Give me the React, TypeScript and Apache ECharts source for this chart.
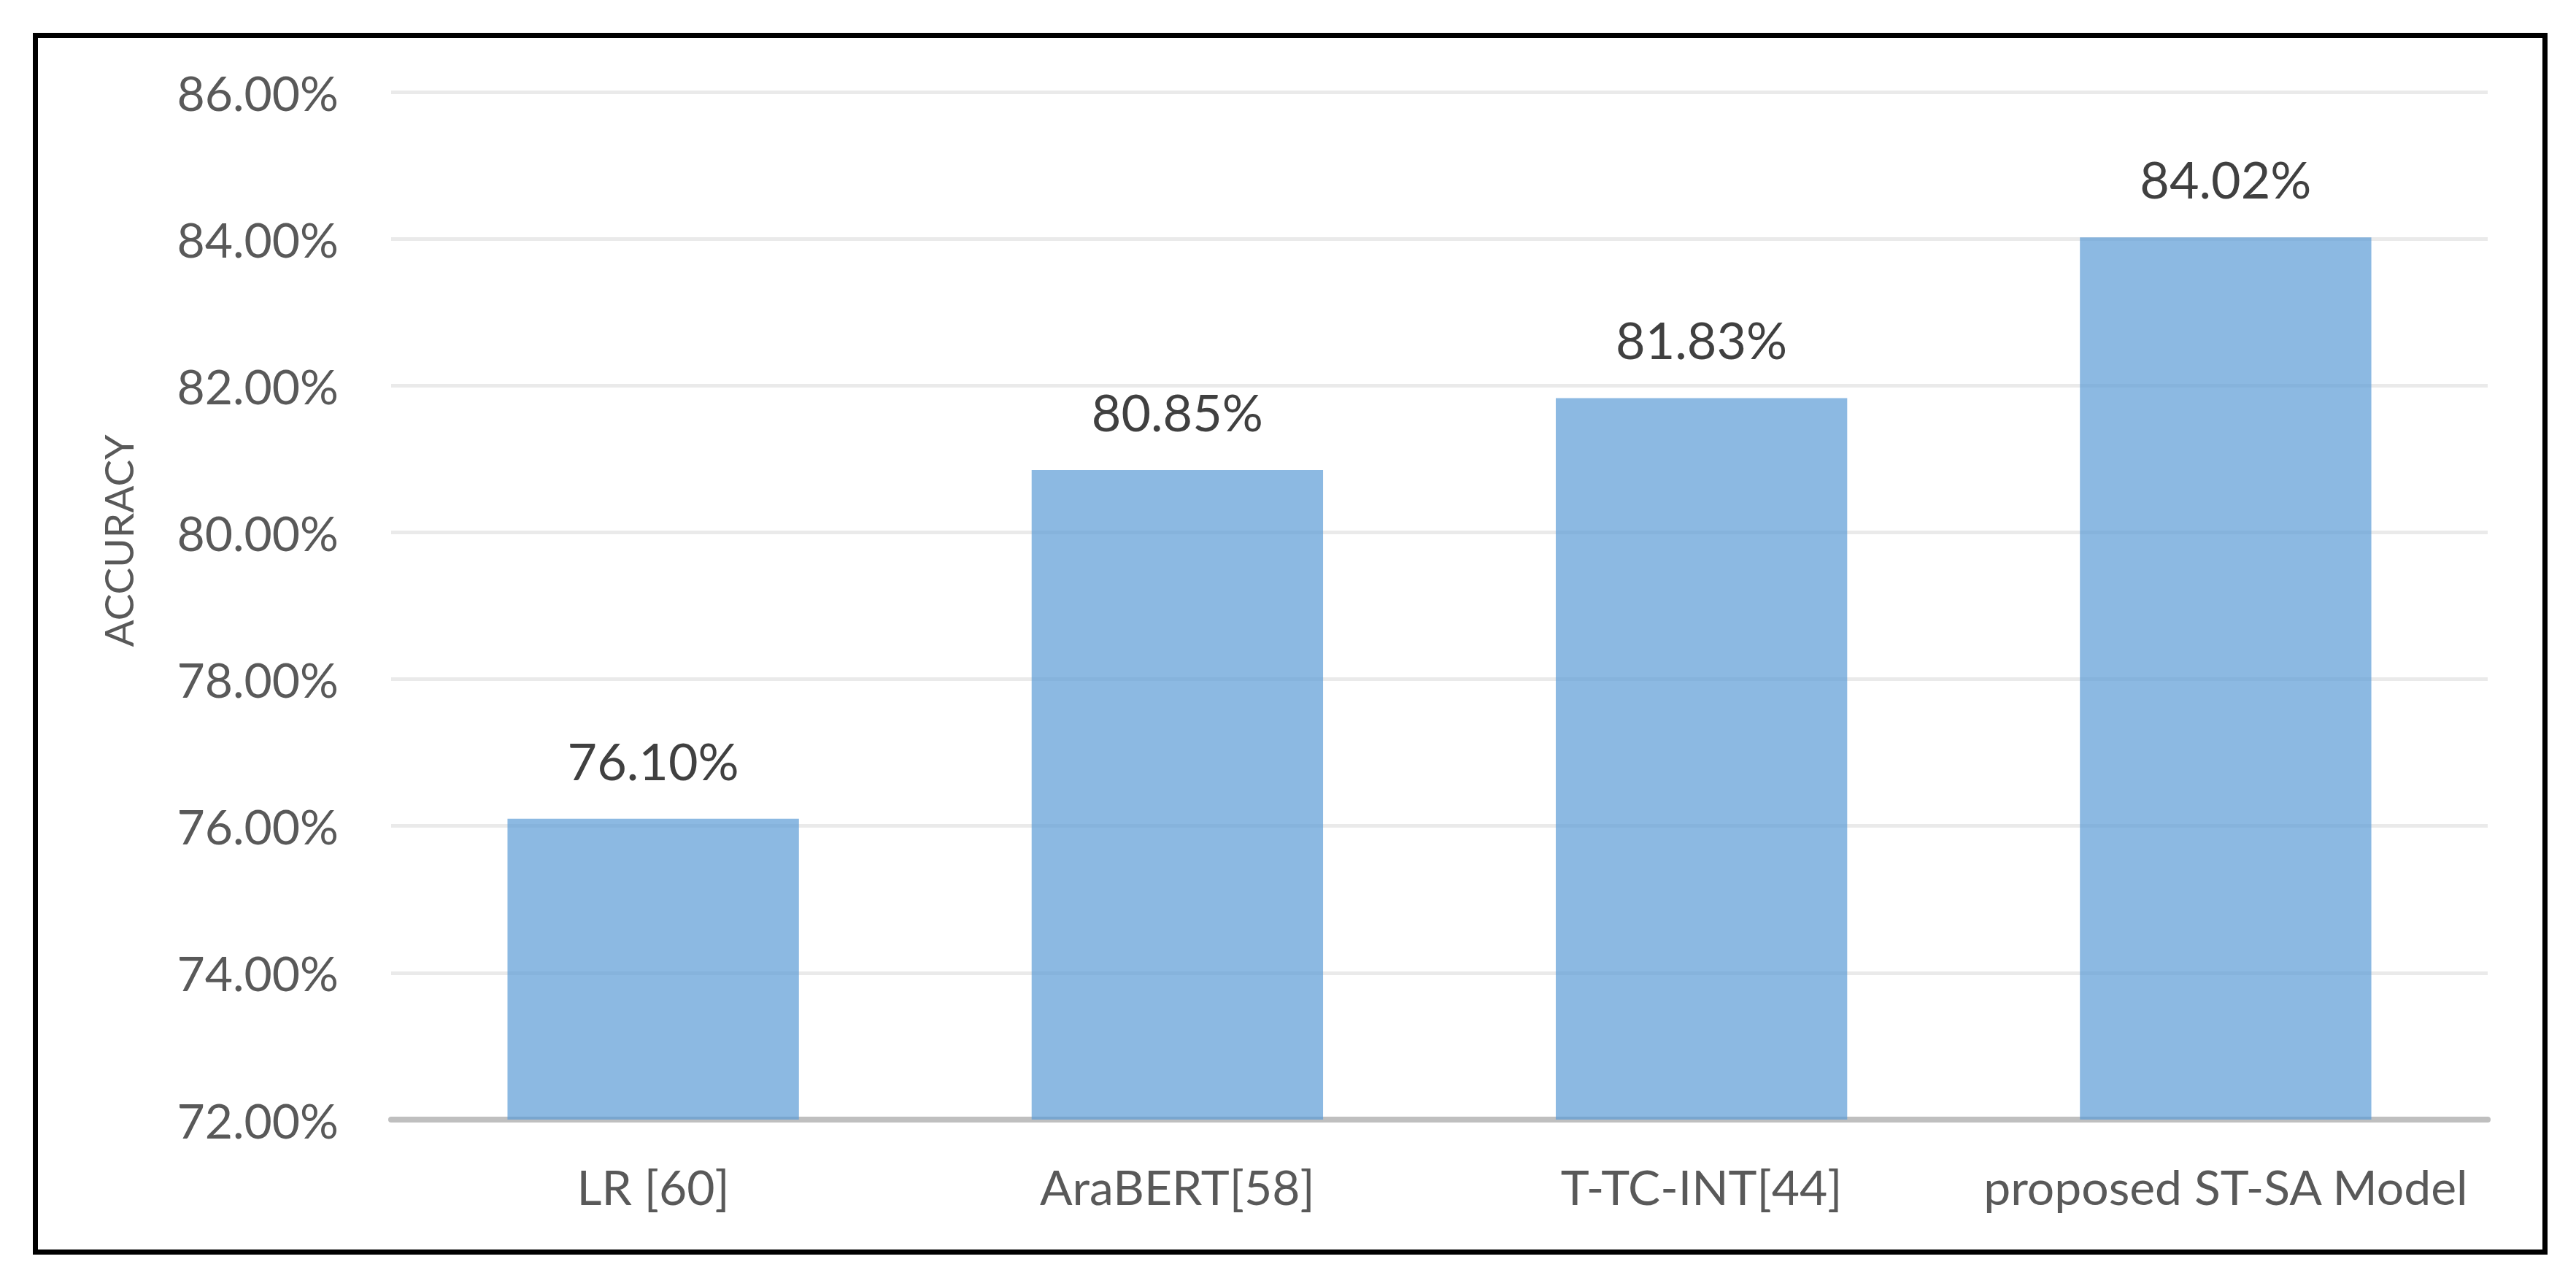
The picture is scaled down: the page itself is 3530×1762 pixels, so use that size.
import React, { useEffect, useRef } from "react";
import * as echarts from "echarts";

const categories = ["LR [60]", "AraBERT[58]", "T-TC-INT[44]", "proposed ST-SA Model"];
const accuracy = [76.1, 80.85, 81.83, 84.02];
const yMin = 72;
const yMax = 86;
const yStep = 2;
const yTitle = "ACCURACY";

const FONT = "Lato";

export default function App() {
  const ref = useRef<HTMLDivElement>(null);
  useEffect(() => {
    document.body.style.margin = "0";
    document.body.style.background = "#ffffff";
    const chart = echarts.init(ref.current!, null, { renderer: "svg" });
    chart.setOption({
      animation: false,
      backgroundColor: "#ffffff",
      grid: { left: 536, right: 121, top: 126, bottom: 228, containLabel: false },
      xAxis: {
        type: "category",
        data: categories,
        axisTick: { show: false },
        axisLine: { show: true, lineStyle: { color: "#BFBFBF", width: 8 } },
        axisLabel: {
          color: "#595959",
          fontFamily: FONT,
          fontSize: 66,
          margin: 58,
          interval: 0,
        },
      },
      yAxis: {
        type: "value",
        min: yMin,
        max: yMax,
        interval: yStep,
        axisLine: { show: false },
        axisTick: { show: false },
        splitLine: { show: true, lineStyle: { color: "#EAEAEA", width: 5 } },
        axisLabel: {
          color: "#595959",
          fontFamily: FONT,
          fontSize: 66,
          margin: 72,
          formatter: (v: number) => v.toFixed(2) + "%",
        },
      },
      series: [
        {
          type: "bar",
          data: accuracy,
          barWidth: "55.6%",
          itemStyle: { color: "rgba(91,155,213,0.7)" },
          label: {
            show: true,
            position: "top",
            distance: 45,
            color: "#404040",
            fontFamily: FONT,
            fontSize: 70,
            formatter: (p: any) => Number(p.value).toFixed(2) + "%",
          },
        },
      ],
      graphic: [
        {
          type: "rect",
          shape: { x: 48.5, y: 48.5, width: 3439, height: 1667 },
          style: { fill: "none", stroke: "#000000", lineWidth: 7 },
          z: 100,
        },
        {
          type: "text",
          x: 162,
          y: 741,
          rotation: Math.PI / 2,
          style: {
            text: yTitle,
            align: "center",
            verticalAlign: "middle",
            fill: "#595959",
            fontFamily: FONT,
            fontSize: 55,
          },
        },
      ],
    });
    return () => chart.dispose();
  }, []);
  return <div ref={ref} style={{ width: 3530, height: 1762 }} />;
}
